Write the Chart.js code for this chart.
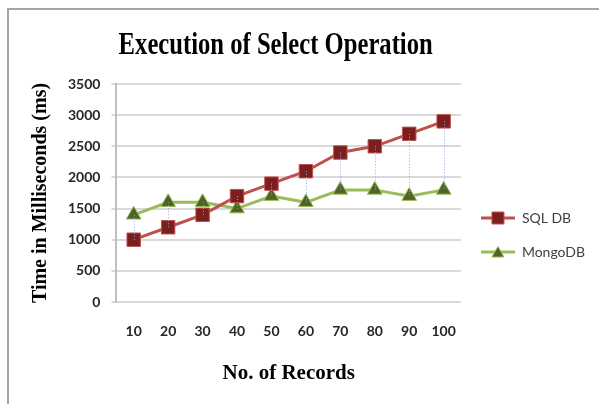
<!DOCTYPE html>
<html>
<head>
<meta charset="utf-8">
<script src="https://cdn.jsdelivr.net/npm/chart.js@4.4.1/dist/chart.umd.min.js"></script>
<style>
  html, body { margin: 0; padding: 0; background: #fff; }
  #wrap { position: relative; width: 599px; height: 404px; overflow: hidden; }
  #frame { position: absolute; left: 7px; top: 8px; width: 700px; height: 500px;
           border-left: 2px solid #a6a6a6; border-top: 2px solid #a6a6a6; }
  canvas { position: absolute; left: 0; top: 0; }
</style>
</head>
<body>
<div id="wrap">
  <div id="frame"></div>
  <canvas id="c" width="599" height="404"></canvas>
</div>
<script>
const chartTitle = "Execution of Select Operation";
const xAxisTitle = "No. of Records";
const yAxisTitle = "Time in Milliseconds (ms)";
const categories = ["10", "20", "30", "40", "50", "60", "70", "80", "90", "100"];
const sqlValues = [1000, 1200, 1400, 1700, 1900, 2100, 2400, 2500, 2700, 2900];
const mongoValues = [1400, 1600, 1600, 1500, 1700, 1600, 1800, 1800, 1700, 1800];
const yTicks = [0, 500, 1000, 1500, 2000, 2500, 3000, 3500];

function legendIcon(kind, lineColor, fill, stroke) {
  const c = document.createElement('canvas');
  c.width = 34; c.height = 14;
  const g = c.getContext('2d');
  g.strokeStyle = lineColor; g.lineWidth = 3;
  g.beginPath(); g.moveTo(0, 7); g.lineTo(34, 7); g.stroke();
  g.fillStyle = fill; g.strokeStyle = stroke; g.lineWidth = 1;
  g.beginPath();
  if (kind === 'rect') { g.rect(11, 1, 12, 12); }
  else { g.moveTo(17, 1.5); g.lineTo(23, 12); g.lineTo(11, 12); g.closePath(); }
  g.fill(); g.stroke();
  return c;
}
const sqlIcon = legendIcon('rect', '#C0504D', '#7A1E1E', '#C0504D');
const mongoIcon = legendIcon('tri', '#9BBB59', '#4F6228', '#9BBB59');

const dropLines = {
  id: 'dropLines',
  afterDatasetsDraw(chart) {
    const a = chart.getDatasetMeta(0).data, b = chart.getDatasetMeta(1).data;
    const ctx = chart.ctx;
    ctx.save();
    ctx.strokeStyle = '#8EA9DB';
    ctx.lineWidth = 1;
    ctx.setLineDash([1, 2]);
    for (let i = 0; i < a.length; i++) {
      ctx.beginPath();
      ctx.moveTo(Math.round(a[i].x) + 0.5, a[i].y);
      ctx.lineTo(Math.round(b[i].x) + 0.5, b[i].y);
      ctx.stroke();
    }
    ctx.restore();
  }
};

const titlePlugin = {
  id: 'condensedTitle',
  afterDraw(chart) {
    const ctx = chart.ctx;
    const area = chart.chartArea;
    ctx.save();
    ctx.fillStyle = '#000';
    ctx.font = 'bold 32px "Liberation Serif", "Times New Roman", serif';
    ctx.textAlign = 'center';
    ctx.textBaseline = 'alphabetic';
    ctx.translate((area.left + area.right) / 2 - 13, 54);
    ctx.scale(0.77, 1);
    ctx.fillText(chartTitle, 0, 0);
    ctx.restore();
  }
};

new Chart(document.getElementById('c'), {
  type: 'line',
  data: {
    labels: categories,
    datasets: [
      {
        label: 'SQL DB', data: sqlValues,
        borderColor: '#C0504D', borderWidth: 3, backgroundColor: '#7A1E1E',
        pointStyle: 'rect', pointRadius: 9.5, pointBorderColor: '#C0504D',
        pointBorderWidth: 1, pointBackgroundColor: '#7A1E1E', tension: 0
      },
      {
        label: 'MongoDB', data: mongoValues,
        borderColor: '#9BBB59', borderWidth: 3, backgroundColor: '#4F6228',
        pointStyle: 'triangle', pointRadius: 8.5, pointBorderColor: '#9BBB59',
        pointBorderWidth: 1, pointBackgroundColor: '#4F6228', tension: 0
      }
    ]
  },
  options: {
    responsive: false,
    animation: false,
    layout: { padding: { top: 84, left: 29, right: 4, bottom: 18 } },
    plugins: {
      title: { display: false },
      tooltip: { enabled: false },
      legend: {
        position: 'right',
        labels: {
          usePointStyle: true,
          pointStyleWidth: 34,
          padding: 20,
          color: '#404040',
          font: { family: 'Lato, "Open Sans", sans-serif', size: 14 },
          generateLabels(chart) {
            return chart.data.datasets.map((ds, i) => ({
              text: ds.label,
              pointStyle: i === 0 ? sqlIcon : mongoIcon,
              fillStyle: ds.backgroundColor,
              strokeStyle: ds.borderColor,
              lineWidth: 0,
              hidden: false,
              datasetIndex: i,
              fontColor: '#404040'
            }));
          }
        }
      }
    },
    scales: {
      x: {
        offset: true,
        grid: { display: false, drawTicks: false },
        border: { display: false },
        ticks: {
          padding: 21, color: '#262626',
          font: { family: 'Lato, "Open Sans", sans-serif', size: 14, weight: 'bold' }
        },
        title: {
          display: true, text: xAxisTitle, color: '#000',
          font: { family: '"Liberation Serif", "Times New Roman", serif', size: 21, weight: 'bold' },
          padding: { top: 0, bottom: 0 }
        }
      },
      y: {
        min: 0, max: 3500,
        afterBuildTicks(axis) { axis.ticks = yTicks.map(v => ({ value: v })); },
        grid: { color: '#d9d9d9', lineWidth: 2, drawTicks: true, tickLength: 5, tickColor: '#d9d9d9' },
        border: { display: true, color: '#bfbfbf', width: 2 },
        ticks: {
          padding: 11, color: '#262626',
          font: { family: 'Lato, "Open Sans", sans-serif', size: 14, weight: 'bold' },
          callback: (v) => String(v)
        },
        title: {
          display: true, text: yAxisTitle, color: '#000',
          font: { family: '"Liberation Serif", "Times New Roman", serif', size: 20, weight: 'bold' },
          padding: { top: 0, bottom: 4 }
        }
      }
    }
  },
  plugins: [dropLines, titlePlugin]
});
</script>
</body>
</html>
